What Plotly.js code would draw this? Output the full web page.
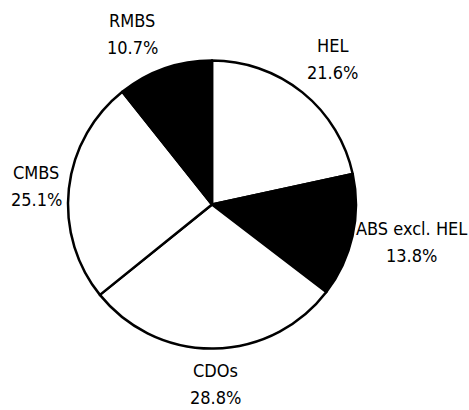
<!DOCTYPE html>
<html>
<head>
<meta charset="utf-8">
<script src="https://cdn.plot.ly/plotly-3.0.1.min.js"></script>
<style>html,body{margin:0;padding:0;background:#fff;}#chart{width:469px;height:410px;}</style>
</head>
<body>
<div id="chart"></div>
<script>
const labels = ["HEL", "ABS excl. HEL", "CDOs", "CMBS", "RMBS"];
const shares = [21.6, 13.8, 28.8, 25.1, 10.7];
const sliceColors = ["#ffffff", "#000000", "#ffffff", "#ffffff", "#000000"];
const pctText = ["21.6%", "13.8%", "28.8%", "25.1%", "10.7%"];

const W = 469, H = 410;
// label block centres in pixels (layout only)
const labelPos = [[332, 59], [411.5, 241.5], [215, 383.5], [36, 186], [132, 34]];
const lineGap = 13.5;
const font = {family: "'DejaVu Sans Condensed', 'Liberation Sans Narrow', Arial, sans-serif", size: 18, color: "#000"};

const trace = {
  type: "pie",
  labels: labels,
  values: shares,
  sort: false,
  direction: "clockwise",
  rotation: 0,
  textinfo: "none",
  hoverinfo: "label+percent",
  marker: {colors: sliceColors, line: {color: "#000", width: 2.5}},
  domain: {x: [68 / W, 356 / W], y: [1 - 348.5 / H, 1 - 60.5 / H]},
  showlegend: false
};

const annotations = [];
labels.forEach((name, i) => {
  [[name, -lineGap], [pctText[i], lineGap]].forEach(([t, dy]) => {
    annotations.push({
      text: t,
      x: labelPos[i][0] / W,
      y: 1 - (labelPos[i][1] + dy) / H,
      xref: "paper", yref: "paper",
      xanchor: "center", yanchor: "middle",
      showarrow: false,
      font: font
    });
  });
});

Plotly.newPlot("chart", [trace], {
  width: W, height: H,
  margin: {l: 0, r: 0, t: 0, b: 0},
  paper_bgcolor: "#fff",
  annotations: annotations,
  showlegend: false
}, {displayModeBar: false, staticPlot: true});
</script>
</body>
</html>
